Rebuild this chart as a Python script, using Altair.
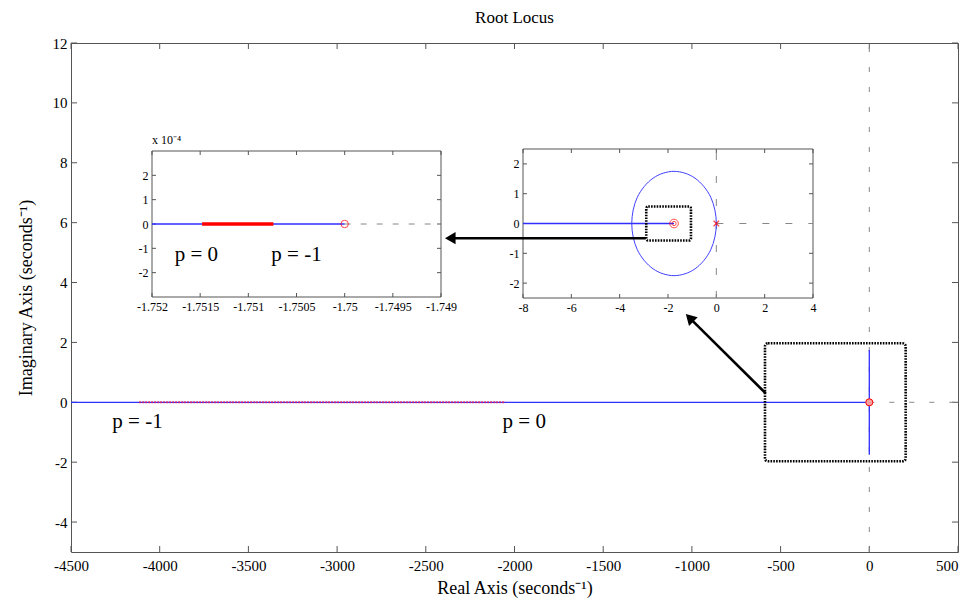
import altair as alt
import pandas as pd

FONT = "Liberation Serif"

# ---------------- data ----------------
# main plot
main_x_domain = [-4500, 500]
main_y_domain = [-5, 12]
main_x_ticks = [-4500, -4000, -3500, -3000, -2500, -2000, -1500, -1000, -500, 0, 500]
main_y_ticks = [-4, -2, 0, 2, 4, 6, 8, 10, 12]

main_dash_x1 = [0, 0]
main_dash_x2 = [0, 500]
main_dash_y1 = [-5, 0]
main_dash_y2 = [12, 0]

main_blue_x1 = [-4500, 0]
main_blue_x2 = [0, 0]
main_blue_y1 = [0, -1.75]
main_blue_y2 = [0, 1.75]

main_red_x1 = [-4115]
main_red_x2 = [-2050]

main_box = {"x": [-588], "x2": [205], "y": [-1.97], "y2": [1.97]}
main_marker_x = [0]
main_marker_y = [0]

main_p_text = ["p = -1", "p = 0"]
main_p_x = [-4125, -1945]
main_p_y = [-0.67, -0.67]

# inset 1 (zoomed near the zero)
in1_x_domain = [-1.752, -1.749]
in1_y_domain = [-3, 3]
in1_x_ticks = [-1.752, -1.7515, -1.751, -1.7505, -1.75, -1.7495, -1.749]
in1_y_ticks = [-2, -1, 0, 1, 2]
in1_blue_x = [-1.752, -1.75]
in1_red_x = [-1.75148, -1.75074]
in1_dash_x = [-1.75, -1.749]
in1_zero_x = [-1.75]
in1_p_text = ["p = 0", "p = -1"]
in1_p_x = [-1.75154, -1.7505]
in1_p_y = [-1.27, -1.27]

# inset 2 (neighbourhood of the origin)
in2_x_domain = [-8, 4]
in2_y_domain = [-2.5, 2.5]
in2_x_ticks = [-8, -6, -4, -2, 0, 2, 4]
in2_y_ticks = [-2, -1, 0, 1, 2]
in2_blue_x = [-8, -1.75]
in2_circle_x = [0, -0.23, -0.88, -1.75, -2.62, -3.27, -3.5, -3.27, -2.62, -1.75, -0.88, -0.23]
in2_circle_y = [0, 0.88, 1.52, 1.75, 1.52, 0.88, 0, -0.88, -1.52, -1.75, -1.52, -0.88]
in2_zero_x = [-1.75]
in2_pole_x = [0]
in2_box = {"x": [-2.9], "x2": [-1.05], "y": [-0.57], "y2": [0.57]}

# arrows (in main-axis units)
arrow_x1 = [-584, -1260]
arrow_y1 = [0.30, 5.48]
arrow_x2 = [-1006, -2352]
arrow_y2 = [2.78, 5.48]
arrow_angle = [315, 270]

# ---------------- layout ----------------
W, H = 887, 509
IN1_XR, IN1_YR = [81, 370], [254, 108]
IN2_XR, IN2_YR = [452, 742], [255, 106]
TICK_COLOR = "#555"
BLUE = "#2f2fff"

# ---------------- main layer ----------------
msx = alt.Scale(domain=main_x_domain, nice=False, zero=False)
msy = alt.Scale(domain=main_y_domain, nice=False, zero=False)
MX = alt.X("x:Q", scale=msx, axis=alt.Axis(
    orient="bottom", values=main_x_ticks, title="Real Axis (seconds⁻¹)",
    labelExpr="'' + datum.value", ticks=False, tickSize=0, domain=False, grid=False,
    labelAlign=alt.condition("datum.value == 500", alt.value("right"), alt.value("center")),
    labelFontSize=15, labelPadding=6, labelFlush=False, labelOverlap=False,
    titleFontSize=18, titlePadding=6, titleFontWeight="normal"))
MY = alt.Y("y:Q", scale=msy, axis=alt.Axis(
    orient="left", values=main_y_ticks, title="Imaginary Axis (seconds⁻¹)",
    labelExpr="'' + datum.value", ticks=False, tickSize=0, domain=False, grid=False,
    labelFontSize=15, labelPadding=4, labelFlush=False, labelOverlap=False,
    titleFontSize=18, titlePadding=17, titleFontWeight="normal"))

seg = lambda x1, x2, y1, y2: pd.DataFrame({"x": x1, "x2": x2, "y": y1, "y2": y2})

m_dash = alt.Chart(seg(main_dash_x1, main_dash_x2, main_dash_y1, main_dash_y2)).mark_rule(
    color="#888", strokeDash=[5, 15], strokeWidth=1).encode(x=MX, x2="x2:Q", y=MY, y2="y2:Q")
m_blue = alt.Chart(seg(main_blue_x1, main_blue_x2, main_blue_y1, main_blue_y2)).mark_rule(
    color=BLUE, strokeWidth=1.3).encode(x=MX, x2="x2:Q", y=MY, y2="y2:Q")
m_red = alt.Chart(seg(main_red_x1, main_red_x2, [0], [0])).mark_rule(
    color="#e0205a", strokeDash=[1.5, 1.5], strokeWidth=2).encode(x=MX, x2="x2:Q", y=MY, y2="y2:Q")
m_box = alt.Chart(pd.DataFrame(main_box)).mark_rect(
    fillOpacity=0, stroke="black", strokeWidth=2.6, strokeDash=[1.6, 1.2], cornerRadius=3
).encode(x=MX, x2="x2:Q", y=MY, y2="y2:Q")
m_marker = alt.Chart(pd.DataFrame({"x": main_marker_x, "y": main_marker_y})).mark_point(
    shape="circle", filled=True, fill="#f4a0a0", stroke="#ff0000", strokeWidth=1, size=50, opacity=1
).encode(x=MX, y=MY)
m_text = alt.Chart(pd.DataFrame({"x": main_p_x, "y": main_p_y, "t": main_p_text})).mark_text(
    font=FONT, fontSize=21, color="black").encode(x=MX, y=MY, text="t:N")
xt = pd.DataFrame({"x": main_x_ticks})
yt = pd.DataFrame({"y": main_y_ticks})
m_tb = alt.Chart(xt).mark_rule(color=TICK_COLOR).encode(x=MX, y=alt.value(H), y2=alt.value(H - 6))
m_tt = alt.Chart(xt).mark_rule(color=TICK_COLOR).encode(x=MX, y=alt.value(0), y2=alt.value(6))
m_tl = alt.Chart(yt).mark_rule(color=TICK_COLOR).encode(y=MY, x=alt.value(0), x2=alt.value(6))
m_tr = alt.Chart(yt).mark_rule(color=TICK_COLOR).encode(y=MY, x=alt.value(W), x2=alt.value(W - 6))

main_layer = alt.layer(m_tb, m_tt, m_tl, m_tr, m_dash, m_blue, m_red, m_box, m_text, m_marker)


# ---------------- insets ----------------
def inset_enc(xdom, ydom, xr, yr, xticks, yticks):
    ix = alt.X("x:Q", scale=alt.Scale(domain=xdom, range=xr, nice=False, zero=False), axis=alt.Axis(
        orient="bottom", offset=yr[0] - H, values=xticks, title="", labelExpr="'' + datum.value",
        ticks=False, tickSize=0, domain=False, grid=False, labelFontSize=12, labelPadding=4,
        labelFlush=False, labelOverlap=False, zindex=1))
    iy = alt.Y("y:Q", scale=alt.Scale(domain=ydom, range=yr, nice=False, zero=False), axis=alt.Axis(
        orient="left", offset=-xr[0], values=yticks, title="", labelExpr="'' + datum.value",
        ticks=False, tickSize=0, domain=False, grid=False, labelFontSize=12, labelPadding=4,
        labelFlush=False, labelOverlap=False, zindex=1))
    return ix, iy


def inset_frame(ix, iy, xdom, ydom, xr, yr, xticks, yticks):
    frame = alt.Chart(seg([xdom[0]], [xdom[1]], [ydom[0]], [ydom[1]])).mark_rect(
        fill="white", stroke="#555", strokeWidth=1).encode(x=ix, x2="x2:Q", y=iy, y2="y2:Q")
    xdf = pd.DataFrame({"x": xticks})
    ydf = pd.DataFrame({"y": yticks})
    tb = alt.Chart(xdf).mark_rule(color=TICK_COLOR).encode(x=ix, y=alt.value(yr[0]), y2=alt.value(yr[0] - 4))
    tt = alt.Chart(xdf).mark_rule(color=TICK_COLOR).encode(x=ix, y=alt.value(yr[1]), y2=alt.value(yr[1] + 4))
    tl = alt.Chart(ydf).mark_rule(color=TICK_COLOR).encode(y=iy, x=alt.value(xr[0]), x2=alt.value(xr[0] + 4))
    tr = alt.Chart(ydf).mark_rule(color=TICK_COLOR).encode(y=iy, x=alt.value(xr[1]), x2=alt.value(xr[1] - 4))
    return [frame, tb, tt, tl, tr]


# inset 1
I1X, I1Y = inset_enc(in1_x_domain, in1_y_domain, IN1_XR, IN1_YR, in1_x_ticks, in1_y_ticks)
i1_parts = inset_frame(I1X, I1Y, in1_x_domain, in1_y_domain, IN1_XR, IN1_YR, in1_x_ticks, in1_y_ticks)
i1_dash = alt.Chart(seg([in1_dash_x[0]], [in1_dash_x[1]], [0], [0])).mark_rule(
    color="#888", strokeDash=[6, 10], strokeWidth=1).encode(x=I1X, x2="x2:Q", y=I1Y, y2="y2:Q")
i1_blue = alt.Chart(seg([in1_blue_x[0]], [in1_blue_x[1]], [0], [0])).mark_rule(
    color=BLUE, strokeWidth=1.4).encode(x=I1X, x2="x2:Q", y=I1Y, y2="y2:Q")
i1_red = alt.Chart(seg([in1_red_x[0]], [in1_red_x[1]], [0], [0])).mark_rule(
    color="#ff0000", strokeWidth=3.5).encode(x=I1X, x2="x2:Q", y=I1Y, y2="y2:Q")
i1_zero = alt.Chart(pd.DataFrame({"x": in1_zero_x, "y": [0]})).mark_point(
    shape="circle", filled=False, color="#ff0000", size=55, strokeWidth=1).encode(x=I1X, y=I1Y)
i1_text = alt.Chart(pd.DataFrame({"x": in1_p_x, "y": in1_p_y, "t": in1_p_text})).mark_text(
    font=FONT, fontSize=21, color="black").encode(x=I1X, y=I1Y, text="t:N")
i1_exp = alt.Chart(pd.DataFrame({"x": [in1_x_domain[0]], "y": [in1_y_domain[1]], "t": ["x 10⁻⁴"]})).mark_text(
    font=FONT, fontSize=12, color="black", align="left", baseline="bottom", dy=-4).encode(x=I1X, y=I1Y, text="t:N")
inset1 = alt.layer(*i1_parts, i1_dash, i1_blue, i1_red, i1_zero, i1_text, i1_exp)

# inset 2
I2X, I2Y = inset_enc(in2_x_domain, in2_y_domain, IN2_XR, IN2_YR, in2_x_ticks, in2_y_ticks)
i2_parts = inset_frame(I2X, I2Y, in2_x_domain, in2_y_domain, IN2_XR, IN2_YR, in2_x_ticks, in2_y_ticks)
i2_dash = alt.Chart(seg([0, 0], [0, in2_x_domain[1]], [in2_y_domain[0], 0], [in2_y_domain[1], 0])).mark_rule(
    color="#888", strokeDash=[7, 16], strokeWidth=1).encode(x=I2X, x2="x2:Q", y=I2Y, y2="y2:Q")
i2_blue = alt.Chart(seg([in2_blue_x[0]], [in2_blue_x[1]], [0], [0])).mark_rule(
    color=BLUE, strokeWidth=1.5).encode(x=I2X, x2="x2:Q", y=I2Y, y2="y2:Q")
i2_circle = alt.Chart(pd.DataFrame({"x": in2_circle_x, "y": in2_circle_y,
                                    "o": list(range(len(in2_circle_x)))})).mark_line(
    color="#4040ff", strokeWidth=1, interpolate="cardinal-closed", tension=0
).encode(x=I2X, y=I2Y, order="o:Q")
i2_box = alt.Chart(pd.DataFrame(in2_box)).mark_rect(
    fillOpacity=0, stroke="black", strokeWidth=2.6, strokeDash=[1.6, 1.2], cornerRadius=2
).encode(x=I2X, x2="x2:Q", y=I2Y, y2="y2:Q")
i2_zero_o = alt.Chart(pd.DataFrame({"x": in2_zero_x, "y": [0]})).mark_point(
    shape="circle", filled=False, color="#ff0000", size=75, strokeWidth=1).encode(x=I2X, y=I2Y)
i2_zero_i = alt.Chart(pd.DataFrame({"x": in2_zero_x, "y": [0]})).mark_point(
    shape="circle", filled=False, color="#ff0000", size=18, strokeWidth=1).encode(x=I2X, y=I2Y)
i2_pole = alt.Chart(pd.DataFrame({"x": in2_pole_x, "y": [0]})).mark_point(
    shape="M-1,-1L1,1M1,-1L-1,1", filled=False, color="#ff0000", size=30, strokeWidth=1.2).encode(x=I2X, y=I2Y)
inset2 = alt.layer(*i2_parts, i2_dash, i2_blue, i2_circle, i2_box, i2_zero_o, i2_zero_i, i2_pole)

# ---------------- arrows (drawn on top, main units) ----------------
AX = alt.X("x:Q", scale=alt.Scale(domain=main_x_domain, nice=False, zero=False), axis=None)
AY = alt.Y("y:Q", scale=alt.Scale(domain=main_y_domain, nice=False, zero=False), axis=None)
adf = pd.DataFrame({"x": arrow_x1, "y": arrow_y1, "x2": arrow_x2, "y2": arrow_y2})
hdf = pd.DataFrame({"x": arrow_x2, "y": arrow_y2, "a": arrow_angle})
a_lines = alt.Chart(adf).mark_rule(color="black", strokeWidth=2.6).encode(x=AX, x2="x2:Q", y=AY, y2="y2:Q")
a_heads = alt.Chart(hdf).mark_point(shape="triangle", filled=True, color="black", size=150, opacity=1).encode(
    x=AX, y=AY, angle=alt.Angle("a:Q", scale=None))
arrows = alt.layer(a_lines, a_heads)

chart = alt.layer(main_layer, inset1, inset2, arrows).resolve_scale(
    x="independent", y="independent"
).properties(
    width=W, height=H,
    title=alt.TitleParams("Root Locus", font=FONT, fontSize=17, fontWeight="normal",
                          color="black", offset=9, anchor="middle", frame="group"),
    padding={"left": 63, "top": 35, "right": 4, "bottom": 46},
    autosize=alt.AutoSizeParams(type="none"),
).configure_view(
    stroke="#555", strokeWidth=1
).configure_axis(
    labelFont=FONT, titleFont=FONT, labelColor="black", titleColor="black"
)

chart.save("out.html", embed_options={"renderer": "svg", "actions": False})
